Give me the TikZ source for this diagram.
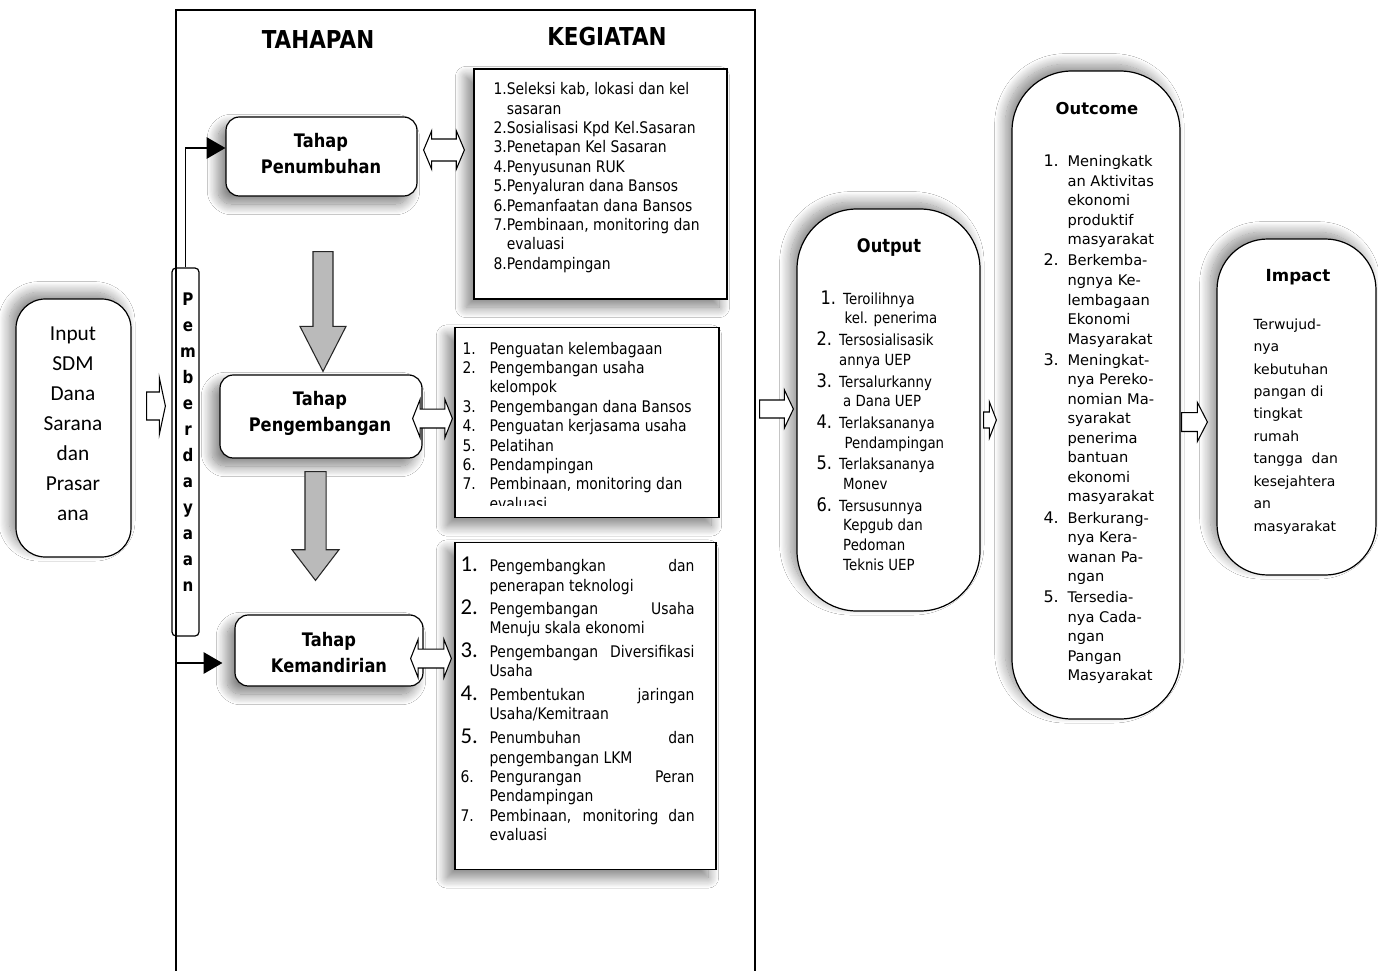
\documentclass[tikz,border=0pt]{standalone}
\usepackage{fontspec}
\usetikzlibrary{calc,arrows.meta,shadows.blur}
\newfontfamily\tah{DejaVu Sans}[FakeStretch=0.87]
\newfontfamily\verd{DejaVu Sans}
\newfontfamily\calfont{Carlito}
\newcommand\fsz[2]{\fontsize{#1pt}{#2pt}\selectfont}
% open block arrow, horizontal: start, tip, half shaft, half head, head length
\newcommand\harrow[5]{\draw[blk] let \p1=#1, \p2=#2 in (\x1,\y1+#3) -- (\x2-#5,\y1+#3) -- (\x2-#5,\y1+#4) -- (\x2,\y1) -- (\x2-#5,\y1-#4) -- (\x2-#5,\y1-#3) -- (\x1,\y1-#3) -- cycle;}
% open double block arrow
\newcommand\dharrow[5]{\draw[blk] let \p1=#1, \p2=#2 in (\x1,\y1) -- (\x1+#5,\y1+#4) -- (\x1+#5,\y1+#3) -- (\x2-#5,\y1+#3) -- (\x2-#5,\y1+#4) -- (\x2,\y1) -- (\x2-#5,\y1-#4) -- (\x2-#5,\y1-#3) -- (\x1+#5,\y1-#3) -- (\x1+#5,\y1-#4) -- cycle;}
% gray downward block arrow
\newcommand\varrow[5]{\draw[gblk] let \p1=#1, \p2=#2 in (\x1-#3,\y1) -- (\x1-#3,\y2+#5) -- (\x1-#4,\y2+#5) -- (\x1,\y2) -- (\x1+#4,\y2+#5) -- (\x1+#3,\y2+#5) -- (\x1+#3,\y1) -- cycle;}
\begin{document}
\begin{tikzpicture}[x=0.75pt,y=-0.75pt,line width=0.8pt,
  box/.style={draw=black,fill=white,inner sep=0pt,line width=0.9pt},
  shdown/.style={blur shadow={shadow xshift=-6pt,shadow yshift=-6pt,shadow blur radius=8pt,shadow blur steps=20,shadow opacity=50}},
  shup/.style={blur shadow={shadow xshift=-5pt,shadow yshift=5pt,shadow blur radius=8pt,shadow blur steps=20,shadow opacity=45}},
  blk/.style={draw=black,fill=white,line width=0.8pt},
  gblk/.style={draw=black!85,fill=black!27,line width=0.8pt},
  conn/.style={draw=black,line width=0.9pt,-{Triangle[length=14pt,width=16pt]}},
  txt/.style={inner sep=0pt,font=\tah\fsz{12}{14.55}},
  ttl/.style={inner sep=0pt,font=\tah\bfseries\fsz{18.5}{22}},
  tahap/.style={inner sep=0pt,align=center,font=\tah\bfseries\fsz{14}{19.5}}]
\useasboundingbox (0,0) rectangle (1378,971);
\fill[white] (0,0) rectangle (1378,971);

% headers
\node[ttl] (tahapan) at (318,40) {TAHAPAN};
\node[ttl] (kegiatan) at (607,37) {KEGIATAN};

% input
\node[box,shup,rounded corners=22pt,minimum width=86.25pt,minimum height=193.5pt] (input) at (73.5,428) {};
\node[inner sep=0pt,align=center,font=\calfont\fsz{16}{22.5}] (inputtxt) at (73,424) {Input\\SDM\\Dana\\Sarana\\dan\\Prasar\\ana};

% pemberdayaan bar
\node[draw=black,line width=0.9pt,inner sep=0pt,rounded corners=3pt,minimum width=20.25pt,minimum height=276pt] (bar) at (185.5,452) {};
\node[inner sep=0pt,align=center,font=\tah\bfseries\fsz{13}{19.5}] (bartxt) at (188,442) {P\\e\\m\\b\\e\\r\\d\\a\\y\\a\\a\\n};

% tahap boxes
\node[box,shdown,rounded corners=10pt,minimum width=143.25pt,minimum height=59.25pt] (pen) at (321.5,156.5) {};
\node[tahap] (pentxt) at (321,154) {Tahap\\Penumbuhan};
\node[box,shdown,rounded corners=10pt,minimum width=151.5pt,minimum height=62.25pt] (peng) at (321,416.5) {};
\node[tahap] (pengtxt) at (320,413.5) {Tahap\\Pengembangan};
\node[box,shdown,rounded corners=10pt,minimum width=141pt,minimum height=53.25pt] (kem) at (329,650.5) {};
\node[tahap] (kemtxt) at (329,653) {Tahap\\Kemandirian};

% kegiatan boxes
\node[box,shdown,minimum width=189.75pt,minimum height=172.5pt] (k1) at (600.5,184) {};
\node[txt,align=left,anchor=north west] (k1txt) at (493,82) {1.Seleksi kab, lokasi dan kel\\\phantom{1.}sasaran\\2.Sosialisasi Kpd Kel.Sasaran\\3.Penetapan Kel Sasaran\\4.Penyusunan RUK\\5.Penyaluran dana Bansos\\6.Pemanfaatan dana Bansos\\7.Pembinaan, monitoring dan\\\phantom{7.}evaluasi\\8.Pendampingan};

\node[box,shdown,minimum width=198pt,minimum height=142.5pt] (k2) at (587,422.5) {};
\begin{scope}
\clip (455,327) rectangle (719,505);
\node[txt,anchor=north west] (k2txt) at (462,340) {\begin{tabular}{@{}p{20.25pt}@{}l@{}}
1. & Penguatan kelembagaan\\
2. & Pengembangan usaha\\
 & kelompok\\
3. & Pengembangan dana Bansos\\
4. & Penguatan kerjasama usaha\\
5. & Pelatihan\\
6. & Pendampingan\\
7. & Pembinaan, monitoring dan\\
 & evaluasi
\end{tabular}};
\end{scope}

\node[box,shdown,minimum width=195.75pt,minimum height=245.25pt] (k3) at (585.5,706) {};
\node[txt,anchor=north west] (k3txt) at (460,556.5) {\begin{tabular}{@{}p{21.75pt}@{}p{153.75pt}@{}}
{\calfont\fsz{17}{14.55}1.} & \makebox[\linewidth][s]{Pengembangkan dan}\\
 & penerapan teknologi\\[2pt]
{\calfont\fsz{17}{14.55}2.} & \makebox[\linewidth][s]{Pengembangan Usaha}\\
 & Menuju skala ekonomi\\[2.5pt]
{\calfont\fsz{17}{14.55}3.} & \makebox[\linewidth][s]{Pengembangan Diversifikasi}\\
 & Usaha\\[2.5pt]
{\calfont\fsz{17}{14.55}4.} & \makebox[\linewidth][s]{Pembentukan jaringan}\\
 & Usaha/Kemitraan\\[2.5pt]
{\calfont\fsz{17}{14.55}5.} & \makebox[\linewidth][s]{Penumbuhan dan}\\
 & pengembangan LKM\\
6. & \makebox[\linewidth][s]{Pengurangan Peran}\\
 & Pendampingan\\
7. & \makebox[\linewidth][s]{Pembinaan, monitoring dan}\\
 & evaluasi
\end{tabular}};

% output
\node[box,shup,rounded corners=45pt,minimum width=137.25pt,minimum height=301.5pt] (out) at (888.5,410) {};
\node[inner sep=0pt,font=\tah\bfseries\fsz{14}{16}] (outttl) at (889,248) {Output};
\node[inner sep=0pt,anchor=north west,font=\tah\fsz{11.5}{14.7}] (outtxt) at (816,290) {\begin{tabular}{@{}p{17pt}@{}l@{}}
{\fsz{14}{14.7}\hspace{3pt}1.} & \hspace{3pt}Teroilihnya\\
 & \hspace{4pt}kel. penerima\\[1.6pt]
{\fsz{14}{14.7}2.} & Tersosialisasik\\
 & annya UEP\\[1.6pt]
{\fsz{14}{14.7}3.} & Tersalurkanny\\
 & \hspace{3pt}a Dana UEP\\[1.6pt]
{\fsz{14}{14.7}4.} & Terlaksananya\\
 & \hspace{4pt}Pendampingan\\[1.6pt]
{\fsz{14}{14.7}5.} & Terlaksananya\\
 & \hspace{3pt}Monev\\[1.6pt]
{\fsz{14}{14.7}6.} & Tersusunnya\\
 & \hspace{3pt}Kepgub dan\\
 & \hspace{3pt}Pedoman\\
 & \hspace{3pt}Teknis UEP
\end{tabular}};

% outcome
\node[box,shup,rounded corners=45pt,minimum width=126pt,minimum height=486pt] (oc) at (1096,395) {};
\node[inner sep=0pt,font=\verd\bfseries\fsz{12.3}{14}] (octtl) at (1097,109) {Outcome};
\node[inner sep=0pt,anchor=north west,font=\verd\fsz{11}{14.65}] (octxt) at (1043,152.5) {\begin{tabular}{@{}p{18pt}@{}l@{}}
{\fsz{12}{14.65}1.} & Meningkatk\\
 & an Aktivitas\\
 & ekonomi\\
 & produktif\\
 & masyarakat\\[1.2pt]
{\fsz{12}{14.65}2.} & Berkemba-\\
 & ngnya Ke-\\
 & lembagaan\\
 & Ekonomi\\
 & Masyarakat\\[1.2pt]
{\fsz{12}{14.65}3.} & Meningkat-\\
 & nya Pereko-\\
 & nomian Ma-\\
 & syarakat\\
 & penerima\\
 & bantuan\\
 & ekonomi\\
 & masyarakat\\[1.2pt]
{\fsz{12}{14.65}4.} & Berkurang-\\
 & nya Kera-\\
 & wanan Pa-\\
 & ngan\\[1.2pt]
{\fsz{12}{14.65}5.} & Tersedia-\\
 & nya Cada-\\
 & ngan\\
 & Pangan\\
 & Masyarakat
\end{tabular}};

% impact
\node[box,shup,rounded corners=38pt,minimum width=119.25pt,minimum height=252pt] (imp) at (1296.5,407) {};
\node[inner sep=0pt,font=\verd\bfseries\fsz{12.5}{14}] (impttl) at (1298,277) {Impact};
\node[inner sep=0pt,anchor=north west,align=left,font=\verd\fsz{10.5}{16.83}] (imptxt) at (1253,318) {Terwujud-\\nya\\kebutuhan\\pangan di\\tingkat\\rumah\\tangga\ \ dan\\kesejahtera\\an\\masyarakat};

% frame
\draw[line width=1pt] (176,980) -- (176,10) -- (755,10) -- (755,980);

% connectors from the bar
\coordinate (kst) at (176,663);
\draw[conn] (bar.north) |- ($(pen.west)+(0,-8.5)$);
\draw[conn] (kst) -- ($(kem.west)+(-12,12.5)$);

% gray down arrows
\varrow{($(pen.south)+(1.5,55)$)}{($(peng.north)+(0,-3)$)}{7.5pt}{17.25pt}{33.75pt}
\varrow{($(peng.south)+(-5.5,13)$)}{($(kem.north)+(0,-34)$)}{7.9pt}{17.6pt}{23pt}

% open arrows
\harrow{($(input.east)+(15,-22)$)}{($(bar.west)+(-6,0)$)}{10.5pt}{21pt}{4.5pt}
\dharrow{($(pen.east)+(6,-6.5)$)}{($(k1.west)+(-9,0)$)}{8.25pt}{14.25pt}{6pt}
\dharrow{($(peng.east)+(-10,2)$)}{($(k2.west)+(-2,0)$)}{7.1pt}{14.25pt}{5.6pt}
\dharrow{($(kem.east)+(-13,8)$)}{($(k3.west)+(-3,0)$)}{7.1pt}{14.25pt}{5.6pt}
\harrow{($(k2.east)+(40,-13.5)$)}{($(out.west)+(-3,0)$)}{6.75pt}{14.25pt}{6.75pt}
\harrow{($(out.east)+(3,10)$)}{($(oc.west)+(-15,0)$)}{6pt}{13.5pt}{5.25pt}
\harrow{($(oc.east)+(1,27)$)}{($(imp.west)+(-9,0)$)}{7.1pt}{14.6pt}{7.5pt}
\end{tikzpicture}
\end{document}
